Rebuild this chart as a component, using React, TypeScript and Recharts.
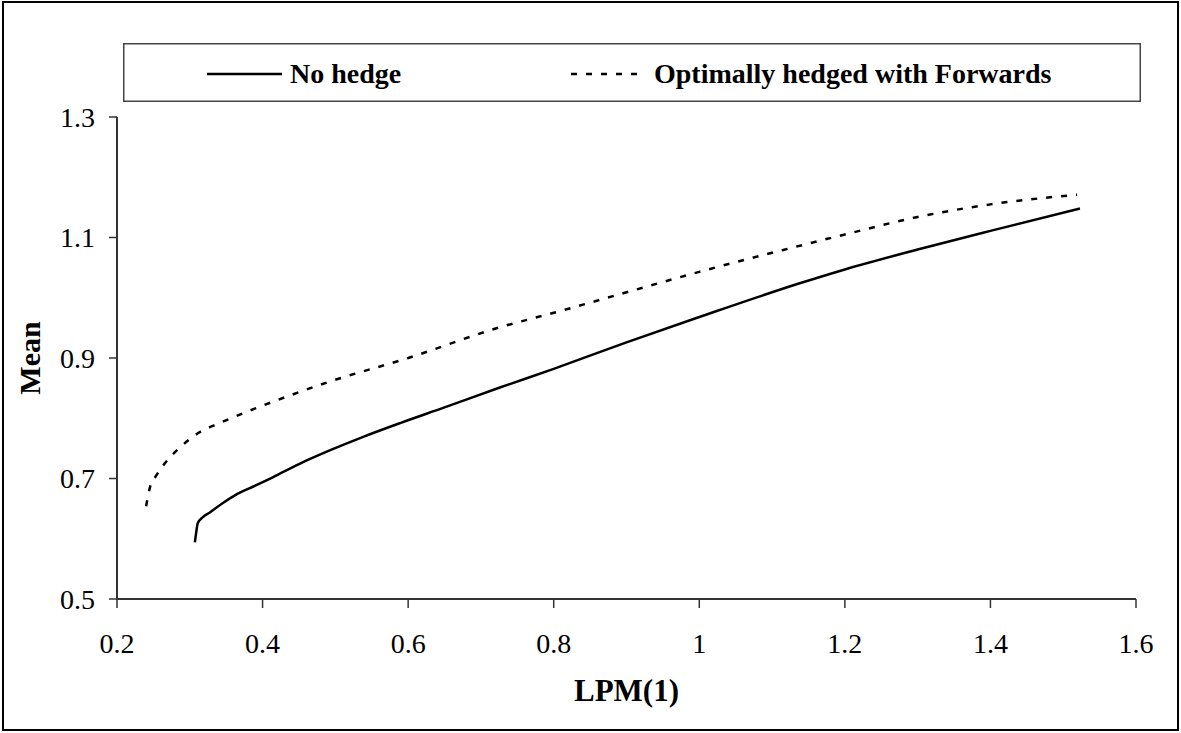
import React from 'react';
import { LineChart, Line, XAxis, YAxis } from 'recharts';

const noHedgeX = [0.307, 0.309, 0.311, 0.318, 0.328, 0.345, 0.362, 0.39, 0.414, 0.45, 0.493, 0.54, 0.589, 0.65, 0.726, 0.8, 0.9, 1.0, 1.138, 1.2, 1.3, 1.4, 1.523];
const noHedgeY = [0.594, 0.612, 0.626, 0.636, 0.644, 0.659, 0.672, 0.688, 0.702, 0.724, 0.747, 0.77, 0.792, 0.818, 0.851, 0.882, 0.926, 0.968, 1.024, 1.047, 1.08, 1.111, 1.148];

const hedgedX = [0.24, 0.245, 0.254, 0.269, 0.287, 0.311, 0.341, 0.383, 0.438, 0.49, 0.6, 0.726, 0.8, 0.932, 1.0, 1.124, 1.2, 1.3, 1.4, 1.519];
const hedgedY = [0.654, 0.684, 0.705, 0.73, 0.752, 0.775, 0.792, 0.813, 0.838, 0.86, 0.9, 0.951, 0.975, 1.02, 1.043, 1.082, 1.105, 1.134, 1.155, 1.171];

const xTicks = [0.2, 0.4, 0.6, 0.8, 1, 1.2, 1.4, 1.6];
const yTicks = [0.5, 0.7, 0.9, 1.1, 1.3];

const seriesNames = ['No hedge', 'Optimally hedged with Forwards'];

const noHedgeData = noHedgeX.map((x, i) => ({ x, y: noHedgeY[i] }));
const hedgedData = hedgedX.map((x, i) => ({ x, y: hedgedY[i] }));

const FONT = 'Liberation Serif, Times New Roman, Times, DejaVu Serif, serif';
const tickStyle = { fill: '#000', fontSize: 28, fontFamily: FONT };

const LegendBox = () => (
  <svg width={1018} height={59} style={{ display: 'block' }}>
    <rect x={0.75} y={0.75} width={1016.5} height={57.5} fill="#fff" stroke="#444" strokeWidth={1.5} />
    <line x1={84} y1={31} x2={159} y2={31} stroke="#000" strokeWidth={2.5} />
    <text x={167} y={40} style={{ fontFamily: FONT }} fontWeight="bold" fontSize={28} fill="#000">{seriesNames[0]}</text>
    <line x1={448} y1={31} x2={518} y2={31} stroke="#000" strokeWidth={2.5} strokeDasharray="6 9" />
    <text x={531} y={40} style={{ fontFamily: FONT }} fontWeight="bold" fontSize={28} fill="#000">{seriesNames[1]}</text>
  </svg>
);

export default function App() {
  return (
    <div style={{ position: 'absolute', left: 0, top: 0, width: 1181, height: 733, background: '#fff', overflow: 'hidden', fontFamily: FONT }}>
      <div style={{ position: 'absolute', left: 2, top: 1, width: 1173, height: 726, border: '2px solid #000' }} />
      <div style={{ position: 'absolute', left: 0, top: 0 }}>
        <LineChart width={1181} height={733} margin={{ top: 117, right: 45, bottom: 54, left: 37 }} style={{ fontFamily: FONT }}>
          <XAxis
            xAxisId="bottom"
            type="number"
            dataKey="x"
            domain={[0.2, 1.6]}
            ticks={xTicks}
            allowDataOverflow
            height={80}
            tickSize={9}
            tickMargin={25}
            tick={tickStyle}
            tickFormatter={(v: number) => String(v)}
            axisLine={{ stroke: '#333', strokeWidth: 2 }}
            tickLine={{ stroke: '#333', strokeWidth: 1.5 }}
            label={{
              content: (props: any) => {
                const vb = props.viewBox || { x: 117, y: 599, width: 1019 };
                return (
                  <text x={vb.x + vb.width / 2} y={vb.y + 102} textAnchor="middle" style={{ fontFamily: FONT }} fontWeight="bold" fontSize={31} fill="#000">LPM(1)</text>
                );
              },
            }}
          />
          <XAxis xAxisId="top" type="number" dataKey="x" domain={[0.2, 1.6]} orientation="top" height={0} tick={false} tickLine={false} axisLine={{ stroke: '#8a8a8a', strokeWidth: 2 }} />
          <YAxis
            yAxisId="left"
            type="number"
            domain={[0.5, 1.3]}
            ticks={yTicks}
            allowDataOverflow
            width={80}
            tickSize={8}
            tickMargin={14}
            tick={tickStyle}
            tickFormatter={(v: number) => String(v)}
            axisLine={{ stroke: '#333', strokeWidth: 2 }}
            tickLine={{ stroke: '#333', strokeWidth: 1.5 }}
            label={{
              content: (props: any) => {
                const vb = props.viewBox || { x: 37, y: 117, height: 482 };
                const cx = vb.x + 3;
                const cy = vb.y + vb.height / 2;
                return (
                  <text x={cx} y={cy} transform={`rotate(-90, ${cx}, ${cy})`} textAnchor="middle" style={{ fontFamily: FONT }} fontWeight="bold" fontSize={30} fill="#000">Mean</text>
                );
              },
            }}
          />
          <YAxis yAxisId="right" type="number" domain={[0.5, 1.3]} orientation="right" width={0} tick={false} tickLine={false} axisLine={{ stroke: '#8a8a8a', strokeWidth: 2 }} />
          <Line
            xAxisId="bottom"
            yAxisId="left"
            data={noHedgeData}
            dataKey="y"
            name={seriesNames[0]}
            type="monotone"
            stroke="#000"
            strokeWidth={2.5}
            dot={false}
            isAnimationActive={false}
          />
          <Line
            xAxisId="bottom"
            yAxisId="left"
            data={hedgedData}
            dataKey="y"
            name={seriesNames[1]}
            type="monotone"
            stroke="#000"
            strokeWidth={2.5}
            strokeDasharray="6 9"
            dot={false}
            isAnimationActive={false}
          />
        </LineChart>
      </div>
      <div style={{ position: 'absolute', left: 123, top: 43 }}>
        <LegendBox />
      </div>
    </div>
  );
}
